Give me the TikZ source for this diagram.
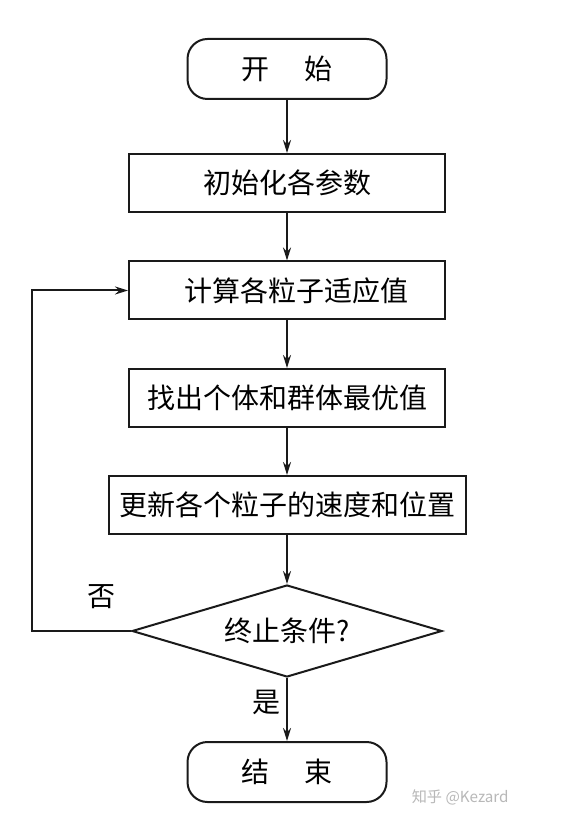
\documentclass[tikz,border=0pt]{standalone}
\usepackage{fontspec}
\usetikzlibrary{arrows.meta,shapes.geometric}
\newfontfamily\cjk{Noto Sans CJK SC}
\definecolor{ink}{HTML}{1A1A1A}
\definecolor{wmgrey}{HTML}{B8B8B8}
\newcommand{\boxfont}{\cjk\fontsize{14}{17}\selectfont}
\newcommand{\wmfont}{\cjk\fontsize{7.6}{9}\selectfont}

\begin{document}
\begin{tikzpicture}[x=0.5pt,y=-0.5pt,font=\boxfont,
  termbox/.style={draw=ink,line width=1pt,rounded corners=10pt,minimum width=99.5pt,minimum height=30pt,inner sep=0},
  procbox/.style={draw=ink,line width=1pt,minimum width=158pt,minimum height=29pt,inner sep=0},
  decbox/.style={draw=ink,line width=1pt,diamond,aspect=3.4,minimum width=155pt,minimum height=46pt,inner sep=0},
  flow/.style={draw=ink,line width=1pt,-{Stealth[length=6.5pt,width=4pt]}}]
\useasboundingbox (0,0) rectangle (578,822);
\fill[white] (0,0) rectangle (578,822);
\node[termbox] (start) at (287,69) {开\hspace{1.25em}始};
\node[procbox] (init) at (287,183) {初始化各参数};
\node[procbox] (fit) at (287,290.5) {\hspace{0.7em}计算各粒子适应值};
\node[procbox] (best) at (287,398) {找出个体和群体最优值};
\node[procbox,minimum width=178.5pt] (update) at (287,505) {更新各个粒子的速度和位置};
\node[decbox] (stop) at (287,631) {终止条件?};
\node[termbox] (end) at (287,772) {结\hspace{1.25em}束};
\coordinate (bend) at (32,631);
\node (no) at (101,597) {否};
\node (yes) at (266,702) {是};
\draw[flow] (start) -- (init);
\draw[flow] (init) -- (fit);
\draw[flow] (fit) -- (best);
\draw[flow] (best) -- (update);
\draw[flow] (update) -- (stop);
\draw[flow] (stop) -- (end);
\draw[flow] (stop.west) -- (bend) |- (fit.west);
\node[anchor=east,inner sep=0,font=\wmfont,text=wmgrey] (wm) at (509,797) {知乎 @Kezard};
\end{tikzpicture}
\end{document}
